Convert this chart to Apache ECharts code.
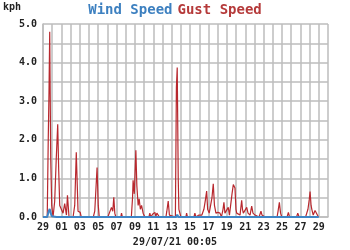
<!DOCTYPE html>
<html><head><meta charset="utf-8">
<script src="https://cdn.jsdelivr.net/npm/echarts@6/dist/echarts.min.js"></script>
<style>html,body{margin:0;padding:0;background:#fff}#c{width:350px;height:250px}</style>
</head><body><div id="c"></div>
<script>
// Days since 29/06/21 00:00
var dayLabels = ['29','30','01','02','03','04','05','06','07','08','09','10','11','12','13','14','15','16','17','18','19','20','21','22','23','24','25','26','27','28','29','30'];
var gustDays = [0,0.46,0.57,0.65,0.73,0.84,0.95,1.09,1.27,1.44,1.60,1.71,1.82,2.00,2.18,2.36,2.55,2.66,2.83,3.27,3.45,3.62,3.73,3.81,3.94,4.05,4.16,5.47,5.63,5.88,6.01,6.12,7.05,7.21,7.45,7.59,7.70,7.81,7.92,8.46,8.54,8.63,9.61,9.74,9.80,9.93,10.10,10.21,10.35,10.46,10.59,10.72,10.89,11.08,11.52,11.62,11.73,11.95,12.17,12.28,12.39,12.53,12.66,13.37,13.47,13.62,13.75,13.91,14.40,14.51,14.60,14.71,14.78,14.89,15.00,15.54,15.62,15.71,16.42,16.52,16.63,16.96,17.07,17.28,17.50,17.67,17.80,17.91,18.08,18.21,18.38,18.52,18.65,18.81,19.03,19.25,19.41,19.58,19.68,19.79,19.90,20.15,20.28,20.39,20.56,20.70,20.88,20.99,21.07,21.24,21.43,21.61,21.70,21.79,21.97,22.16,22.30,22.52,22.70,22.84,22.95,23.06,23.25,23.50,23.71,23.82,23.97,24.15,25.46,25.57,25.71,25.84,25.97,26.55,26.69,26.82,27.58,27.71,27.86,28.56,28.69,28.82,28.96,29.05,29.16,29.24,29.39,29.48,29.59,29.80,29.96,30.00];
var gustValues = [0,0,2.0,3.2,4.8,1.5,0.3,0,0.4,1.5,2.4,1.2,0.3,0.25,0.1,0.35,0.05,0.56,0,0,0.3,1.68,0.8,0.15,0.15,0.12,0,0,0.15,1.28,0.3,0,0,0.05,0.25,0.15,0.51,0.1,0,0,0.1,0,0,0.5,0.95,0.6,1.73,0.8,0.3,0.47,0.2,0.3,0.1,0,0,0.1,0,0.08,0.12,0.02,0.1,0.12,0,0,0.15,0.41,0.05,0,0,3.37,3.87,1.0,0.2,0.1,0,0,0.1,0,0,0.1,0,0.05,0.1,0.05,0.2,0.45,0.67,0.2,0.1,0.05,0.5,0.86,0.3,0.1,0.12,0.1,0,0.2,0.38,0.1,0.05,0.25,0.05,0.1,0.6,0.84,0.75,0.2,0.1,0.1,0.05,0.43,0.2,0.1,0.05,0.25,0.1,0.05,0.28,0.1,0.15,0.05,0,0,0.15,0.05,0.08,0,0,0.15,0.38,0.1,0,0,0.12,0,0,0.1,0,0,0.1,0.2,0.45,0.66,0.3,0.2,0.05,0.1,0.17,0.15,0,0];
var windDays = [0,0.46,0.62,0.73,0.84,0.95,1.05,1.49,1.60,1.71,5.75,5.85,5.96,14.50,14.60,14.73,30.00];
var windValues = [0,0,0.15,0.21,0.1,0.02,0,0,0.04,0,0,0.04,0,0,0.06,0,0];

function pairs(xs, ys){ return xs.map(function(x,i){return [x, ys[i]];}); }

var chart = echarts.init(document.getElementById('c'), null, {renderer:'canvas'});
var mono = '"DejaVu Sans Mono", monospace';
var gridColor = '#bcbcbc';
chart.setOption({
  animation:false,
  backgroundColor:'#fff',
  title:{
    text:'{a|Wind Speed} {b|Gust Speed}',
    left:'center', top:1, padding:0,
    textStyle:{ rich:{
      a:{color:'#3d80c0', fontFamily:mono, fontWeight:'bold', fontSize:14},
      b:{color:'#b53a3a', fontFamily:mono, fontWeight:'bold', fontSize:14}
    }}
  },
  graphic:[
    {type:'text', left:3, top:2, style:{text:'kph', font:'bold 10px '+mono, fill:'#222'}},
    {type:'text', left:'center', top:237, style:{text:'29/07/21 00:05', font:'bold 10px '+mono, fill:'#222'}}
  ],
  grid:{left:43, right:22, top:24, bottom:33, containLabel:false},
  xAxis:{
    type:'value', min:0, max:31, interval:1,
    axisLine:{show:true, lineStyle:{color:gridColor, width:1.5}},
    axisTick:{show:false},
    splitLine:{show:true, lineStyle:{color:gridColor, width:1.5}},
    axisLabel:{
      margin:5, color:'#222', fontFamily:mono, fontWeight:'bold', fontSize:10,
      showMaxLabel:false,
      formatter:function(v){ var i=Math.round(v); return (i%2===0) ? dayLabels[i] : ''; }
    }
  },
  yAxis:{
    type:'value', min:0, max:5, interval:0.5,
    axisLine:{show:true, lineStyle:{color:gridColor, width:1.5}},
    axisTick:{show:false},
    splitLine:{show:true, lineStyle:{color:gridColor, width:1.5}},
    axisLabel:{
      margin:6, color:'#222', fontFamily:mono, fontWeight:'bold', fontSize:10,
      formatter:function(v){ return (Math.abs(v-Math.round(v))<1e-6) ? v.toFixed(1) : ''; }
    }
  },
  series:[
    {type:'line', name:'Gust Speed', data:pairs(gustDays,gustValues), showSymbol:false,
     lineStyle:{color:'#b8282e', width:1.2}, z:3},
    {type:'line', name:'Wind Speed', data:pairs(windDays,windValues), showSymbol:false,
     lineStyle:{color:'#3d85c6', width:2}, z:4}
  ]
});
</script></body></html>
